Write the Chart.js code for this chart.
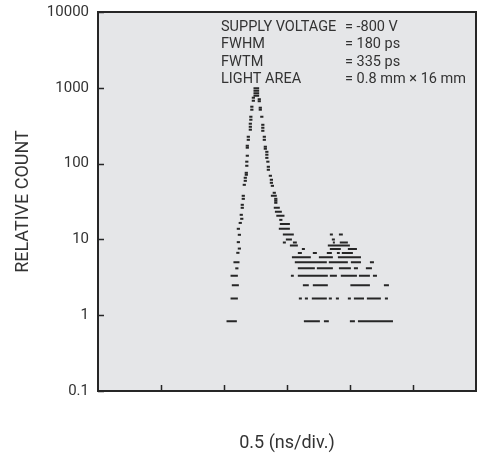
<!DOCTYPE html>
<html>
<head>
<meta charset="utf-8">
<script src="https://cdn.jsdelivr.net/npm/chart.js@4.4.1/dist/chart.umd.min.js"></script>
<style>
  html, body { margin: 0; padding: 0; background: #fff; }
  #wrap { width: 487px; height: 466px; }
</style>
</head>
<body>
<div id="wrap"><canvas id="chart" width="487" height="466"></canvas></div>
<script>
// log axis ticks
const yTicks = [0.1, 1, 10, 100, 1000, 10000];
const yTickLabels = ['0.1', '1', '10', '100', '1000', '10000'];
// x divisions in ns (0.5 ns/div)
const xTicks = [0.5, 1.0, 1.5, 2.0, 2.5];

// text block in the upper right
const infoLabels = ['SUPPLY VOLTAGE', 'FWHM', 'FWTM', 'LIGHT AREA'];
const infoValues = ['= -800 V', '= 180 ps', '= 335 ps', '= 0.8 mm \u00d7 16 mm'];

// single channel marks on the steep edges of the peak (ns, relative count)
const edgeTimes = [
  1.102, 1.110, 1.122, 1.114, 1.122, 1.114, 1.129, 1.141, 1.137, 1.145,
  1.145, 1.153, 1.153, 1.161, 1.169, 1.169, 1.177, 1.177, 1.181, 1.181,
  1.185, 1.185, 1.185, 1.193, 1.193, 1.209, 1.209, 1.209, 1.213, 1.213,
  1.221, 1.221, 1.233, 1.233,
  1.280, 1.280, 1.288, 1.288, 1.300, 1.308, 1.308, 1.308, 1.320, 1.320,
  1.328, 1.328, 1.340, 1.340, 1.340, 1.348, 1.352, 1.352, 1.368, 1.376,
  1.376, 1.384, 1.399, 1.411, 1.411, 1.411, 1.451
];
const edgeCounts = [
  4.15, 6.65, 7.57, 9.2, 11.5, 13.8, 16.5, 18.7, 21.1, 26.1,
  28.6, 34.3, 37.6, 52.5, 59.3, 65.0, 71.2, 75.6, 93.6, 106,
  127, 162, 172, 206, 226, 280, 306, 336, 379, 415,
  514, 563, 675, 740,
  707, 665, 546, 514, 415, 325, 297, 271, 226, 206,
  167, 157, 143, 131, 119, 106, 90.8, 82.9, 69.1, 61.2,
  55.8, 50.9, 41.2, 34.3, 32.3, 30.4, 18.1
];

// runs of neighbouring channels at the same count level (ns, ns, relative count)
const runStart = [
  1.020, 1.052, 1.062, 1.052, 1.075,
  1.234, 1.234, 1.234, 1.234,
  1.372, 1.395, 1.404, 1.415, 1.443, 1.435, 1.467, 1.491, 1.467, 1.547, 1.523,
  1.840, 1.912,
  1.856,
  1.864, 1.919,
  1.824,
  1.618, 1.840, 1.983,
  1.586, 1.705, 1.816, 1.896, 1.935,
  1.539, 1.753, 1.904,
  1.562, 1.832, 2.007, 2.158,
  1.586, 1.737, 1.912, 2.031, 2.126,
  1.531, 1.586, 1.840, 1.927, 2.071, 2.182,
  1.626, 1.705, 2.003, 2.269,
  1.594, 1.642, 1.697, 1.832, 1.888, 1.983, 2.031, 2.134, 2.277,
  1.634, 1.793, 1.999, 2.063
];
const runEnd = [
  1.102, 1.110, 1.118, 1.110, 1.123,
  1.279, 1.279, 1.279, 1.279,
  1.419, 1.443, 1.459, 1.480, 1.523, 1.523, 1.554, 1.539, 1.491, 1.578, 1.586,
  1.864, 1.943,
  1.880,
  1.880, 1.983,
  1.999,
  1.642, 1.927, 2.055,
  1.618, 1.737, 1.856, 1.919, 2.023,
  1.689, 1.864, 2.087,
  1.816, 1.983, 2.087, 2.190,
  1.721, 1.864, 2.007, 2.063, 2.174,
  1.554, 1.824, 1.896, 2.055, 2.158, 2.214,
  1.673, 1.824, 2.158, 2.309,
  1.618, 1.666, 1.816, 1.856, 1.912, 2.007, 2.111, 2.245, 2.301,
  1.761, 1.832, 2.039, 2.341
];
const runCounts = [
  0.83, 1.66, 2.49, 3.32, 4.98,
  786, 848, 915, 987,
  37.6, 26.1, 23.1, 20.5, 16.0, 13.8, 11.6, 9.96, 9.13, 9.13, 8.3,
  11.6, 11.6,
  9.96,
  9.13, 9.13,
  8.3,
  7.47, 7.47, 7.47,
  6.64, 6.64, 6.64, 6.64, 6.64,
  5.81, 5.81, 5.81,
  4.98, 4.98, 4.98, 4.98,
  4.15, 4.15, 4.15, 4.15, 4.15,
  3.32, 3.32, 3.32, 3.32, 3.32, 3.32,
  2.49, 2.49, 2.49, 2.49,
  1.66, 1.66, 1.66, 1.66, 1.66, 1.66, 1.66, 1.66, 1.66,
  0.83, 0.83, 0.83, 0.83
];

const INK = '#262626';
const TEXT = '#333';

// each run becomes a short line segment, null breaks the line between runs
const runPoints = [];
runStart.forEach((s, i) => {
  runPoints.push({ x: s, y: runCounts[i] });
  runPoints.push({ x: runEnd[i], y: runCounts[i] });
  runPoints.push({ x: runEnd[i], y: null });
});
const edgePoints = edgeTimes.map((t, i) => ({ x: t, y: edgeCounts[i] }));

// grey plot area, frame, inward tick marks and the info text
const framePlugin = {
  id: 'frame',
  beforeDraw(chart) {
    const { ctx, chartArea: a } = chart;
    ctx.save();
    ctx.fillStyle = '#e5e6e8';
    ctx.fillRect(a.left, a.top, a.right - a.left, a.bottom - a.top);
    ctx.restore();
  },
  afterDraw(chart) {
    const { ctx, chartArea: a, scales } = chart;
    ctx.save();
    ctx.strokeStyle = INK;
    ctx.lineWidth = 1.5;
    ctx.beginPath();
    yTicks.forEach(v => {
      const y = Math.round(scales.y.getPixelForValue(v)) + 0.5;
      ctx.moveTo(a.left, y);
      ctx.lineTo(a.left + 6, y);
    });
    xTicks.forEach(v => {
      const x = Math.round(scales.x.getPixelForValue(v)) + 0.5;
      ctx.moveTo(x, a.bottom);
      ctx.lineTo(x, a.bottom - 6);
    });
    ctx.stroke();

    ctx.lineWidth = 2;
    ctx.strokeRect(a.left, a.top, a.right - a.left, a.bottom - a.top);

    ctx.fillStyle = TEXT;
    ctx.font = '14.5px Roboto';
    ctx.textBaseline = 'alphabetic';
    infoLabels.forEach((label, i) => {
      const y = 30.8 + i * 17.4;
      ctx.fillText(label, 221, y);
      ctx.fillText(infoValues[i], 345, y);
    });
    ctx.restore();
  }
};

new Chart(document.getElementById('chart'), {
  type: 'scatter',
  data: {
    datasets: [
      {
        data: runPoints,
        showLine: true,
        spanGaps: false,
        borderColor: INK,
        borderWidth: 2,
        pointRadius: 0
      },
      {
        data: edgePoints,
        showLine: false,
        pointStyle: 'line',
        pointRadius: 1.6,
        pointBorderWidth: 2,
        pointBorderColor: INK,
        pointBackgroundColor: INK
      }
    ]
  },
  options: {
    responsive: false,
    animation: false,
    events: [],
    layout: { padding: { top: 12, right: 11, left: 0, bottom: 0 } },
    plugins: {
      legend: { display: false },
      tooltip: { enabled: false }
    },
    scales: {
      x: {
        type: 'linear',
        min: 0,
        max: 3,
        grid: { display: false },
        border: { display: false },
        ticks: { display: false },
        title: {
          display: true,
          text: '0.5 (ns/div.)',
          color: TEXT,
          font: { family: 'Roboto', size: 18 },
          padding: { top: 0, bottom: 12 }
        },
        afterFit: s => { s.height = 75; }
      },
      y: {
        type: 'logarithmic',
        min: 0.1,
        max: 10000,
        grid: { display: false },
        border: { display: false },
        afterBuildTicks: s => { s.ticks = yTicks.map(v => ({ value: v })); },
        ticks: {
          color: TEXT,
          padding: 1,
          font: { family: 'Roboto', size: 15 },
          callback: (v, i) => yTickLabels[i]
        },
        title: {
          display: true,
          text: 'RELATIVE COUNT',
          color: TEXT,
          font: { family: 'Roboto', size: 18 },
          padding: { top: 13, bottom: 0 }
        },
        afterFit: s => {
          s.width = 98;
          // let the top label hang over the margin instead of pushing the plot down
          s.paddingTop = 0;
          s.paddingBottom = 0;
        }
      }
    }
  },
  plugins: [framePlugin]
});
</script>
</body>
</html>
